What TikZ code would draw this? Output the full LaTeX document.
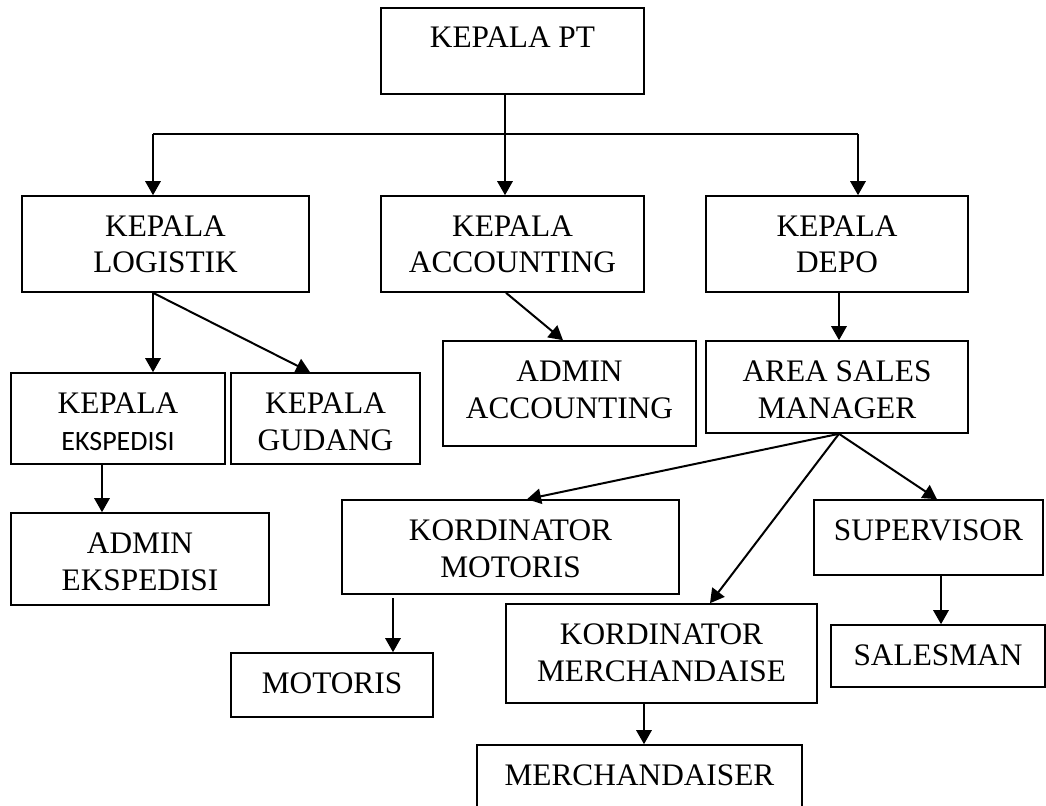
\documentclass[tikz,border=0pt]{standalone}
\usepackage{fontspec}
\setmainfont{Liberation Serif}
\newfontfamily\calib{Carlito}
\usetikzlibrary{arrows.meta}
\newcommand{\orgbox}[6]{%
  \node[box, minimum width={(#4-#2)*0.75pt}, minimum height={(#5-#3)*0.75pt}]
    (#1) at ({(#2+#4)/2},{(#3+#5)/2}) {};
  \node[lbl] (#1t) at ({(#2+#4)/2},{#3+40}) {\begin{tabular}[t]{@{}c@{}}#6\end{tabular}};
}
\begin{document}
\begin{tikzpicture}[x=0.75pt,y=-0.75pt,
  box/.style={draw, line width=1.2pt, inner sep=0pt},
  lbl/.style={anchor=base, inner sep=0pt, font=\fontsize{23.5}{27.75}\selectfont},
  conn/.style={line width=1.5pt},
  arr/.style={conn, -{Triangle[length=10.5pt,width=11.5pt]}}]
\useasboundingbox (0,0) rectangle (1046,806);

\orgbox{pt}{381}{8}{644}{94}{KEPALA PT}
\orgbox{log}{22}{196}{309}{292}{KEPALA\\LOGISTIK}
\orgbox{acc}{381}{196}{644}{292}{KEPALA\\ACCOUNTING}
\orgbox{depo}{706}{196}{968}{292}{KEPALA\\DEPO}
\orgbox{eksp}{11}{373}{225}{464}{KEPALA\\{\calib\fontsize{21}{24}\selectfont EKSPEDISI}}
\orgbox{gud}{231}{373}{420}{464}{KEPALA\\GUDANG}
\orgbox{adacc}{443}{341}{696}{446}{ADMIN\\ACCOUNTING}
\orgbox{asm}{706}{341}{968}{433}{AREA SALES\\MANAGER}
\orgbox{adeks}{11}{513}{269}{605}{ADMIN\\EKSPEDISI}
\orgbox{kmot}{342}{500}{679}{594}{KORDINATOR\\MOTORIS}
\orgbox{sup}{814}{500}{1043}{575}{SUPERVISOR}
\orgbox{kmer}{506}{604}{817}{703}{KORDINATOR\\MERCHANDAISE}
\orgbox{mot}{231}{653}{433}{717}{MOTORIS}
\orgbox{sales}{831}{625}{1045}{687}{SALESMAN}
\orgbox{merch}{477}{745}{802}{812}{MERCHANDAISER}

% top bus
\coordinate (bus) at (505,134);
\coordinate (busL) at (153,134);
\coordinate (busR) at (858,134);
\draw[conn] (busL) -- (busR);
\draw[arr] (pt.south -| bus) -- (acc.north -| bus);
\draw[arr] (busL) -- (log.north -| busL);
\draw[arr] (busR) -- (depo.north -| busR);

% logistik
\coordinate (logo) at (153,292);
\coordinate (gudin) at (310,373);
\draw[arr] (log.south -| logo) -- (eksp.north -| logo);
\draw[arr] (log.south -| logo) -- (gud.north -| gudin);

% ekspedisi
\coordinate (ekx) at (102,0);
\draw[arr] (eksp.south -| ekx) -- (adeks.north -| ekx);

% accounting
\coordinate (acco) at (506,292);
\coordinate (adin) at (563,341);
\draw[arr] (acc.south -| acco) -- (adacc.north -| adin);

% depo
\coordinate (dx) at (839,0);
\draw[arr] (depo.south -| dx) -- (asm.north -| dx);

% area sales manager
\coordinate (kmotin) at (527,0);
\coordinate (kmerin) at (710,0);
\coordinate (supin) at (937,0);
\draw[arr] (asm.south -| dx) -- (kmot.north -| kmotin);
\draw[arr] (asm.south -| dx) -- (kmer.north -| kmerin);
\draw[arr] (asm.south -| dx) -- (sup.north -| supin);

% lower arrows
\coordinate (motx) at (393,598);
\draw[arr] (motx) -- (mot.north -| motx);
\coordinate (salx) at (941,0);
\draw[arr] (sup.south -| salx) -- (sales.north -| salx);
\coordinate (merx) at (644,0);
\draw[arr] (kmer.south -| merx) -- (merch.north -| merx);
\end{tikzpicture}
\end{document}
